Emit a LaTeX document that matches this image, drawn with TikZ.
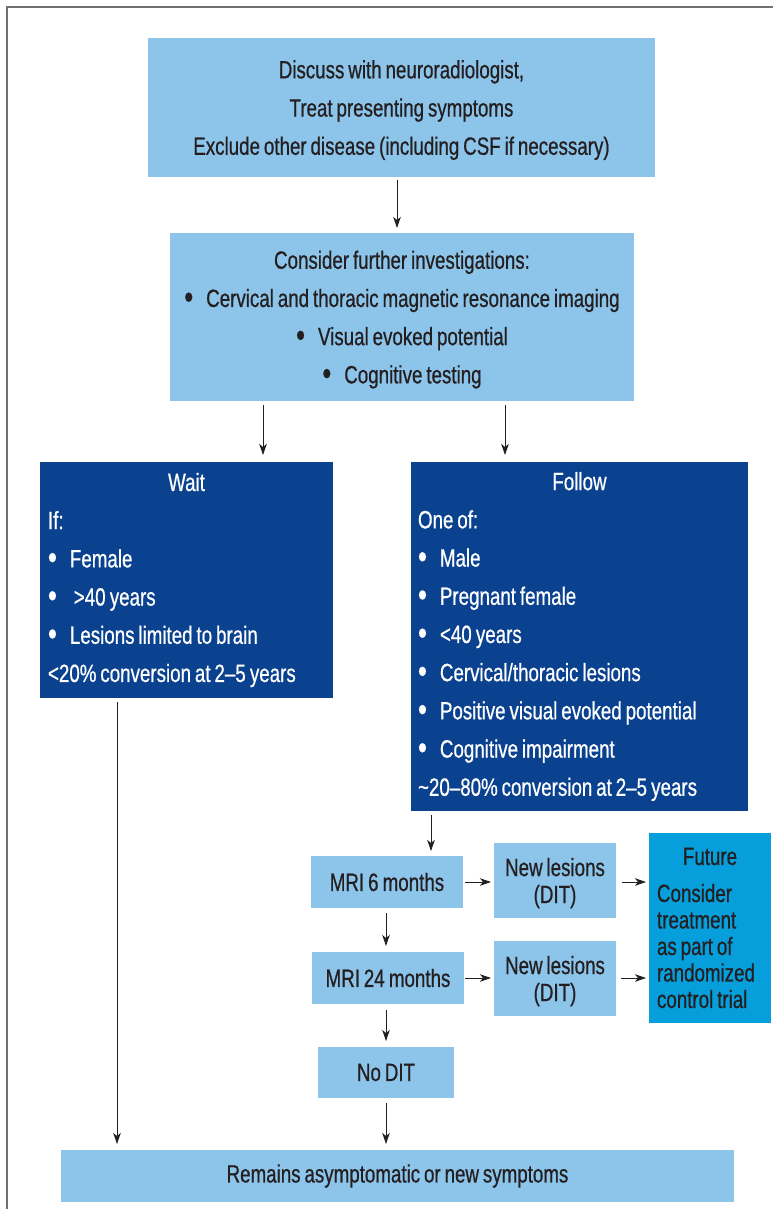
\documentclass[tikz,border=0pt]{standalone}
\usepackage{fontspec}
\setmainfont{Liberation Sans}[FakeStretch=0.75, FakeBold=0.6, WordSpace=0.75]
\usetikzlibrary{arrows.meta}
\definecolor{lightbox}{HTML}{8DC4EA}
\definecolor{darkbox}{HTML}{0B4290}
\definecolor{futurebox}{HTML}{069EDB}
\definecolor{txt}{HTML}{231F20}
\definecolor{framecol}{HTML}{707070}
\newcommand{\bul}{\raisebox{-1.5pt}{\fontsize{34}{0}\selectfont\textbullet}\hspace{13pt}}
\newcommand{\ctitle}[1]{\hbox to \hsize{\hss #1\hss}}
\begin{document}
\begin{tikzpicture}[x=1pt,y=-1pt,
  box/.style={rectangle, inner sep=0pt, outer sep=0pt, draw=none},
  lbox/.style={box, fill=lightbox, text=txt, align=center, font=\fontsize{25}{38.2}\selectfont},
  dbox/.style={box, fill=darkbox, text=white, align=flush left, font=\fontsize{25}{38.2}\selectfont},
  fbox/.style={box, fill=futurebox, text=txt, align=flush left, font=\fontsize{25}{26.5}\selectfont},
  arr/.style={draw=txt, line width=0.9pt, -{Stealth[length=11pt,width=7.5pt,inset=3pt]}}]
\useasboundingbox (0,0) rectangle (773,1209);
\draw[framecol, line width=1.3pt] (773,7) -- (7,7) -- (7,1209);

\node[lbox, minimum width=507pt, minimum height=139pt, text depth=-5pt] (b1) at (401.5,107.5)
  {Discuss with neuroradiologist,\\Treat presenting symptoms\\Exclude other disease (including CSF if necessary)};
\node[lbox, minimum width=464pt, minimum height=168pt, text depth=-5pt] (b2) at (402,317)
  {Consider further investigations:\\\bul Cervical and thoracic magnetic resonance imaging\\\bul Visual evoked potential\\\bul Cognitive testing};
\node[dbox, minimum height=236pt, text width=277pt, inner xsep=8pt] (wait) at (186.5,580)
  {\ctitle{Wait}\\If:\\\bul Female\\\bul\ {>}40\,years\\\bul Lesions limited to brain\\{<}20\% conversion at 2--5\,years};
\node[dbox, minimum height=349pt, text width=323pt, inner xsep=7pt] (follow) at (579.5,636.5)
  {\ctitle{Follow}\\One of:\\\bul Male\\\bul Pregnant female\\\bul {<}40\,years\\\bul Cervical/thoracic lesions\\\bul Positive visual evoked potential\\\bul Cognitive impairment\\\textasciitilde 20--80\% conversion at 2--5\,years};
\node[lbox, minimum width=152pt, minimum height=52pt] (m6) at (387,882) {MRI 6\,months};
\node[lbox, minimum width=122pt, minimum height=75pt, font=\fontsize{25}{27}\selectfont, text depth=-5pt] (n1) at (555,880.5) {New lesions\\(DIT)};
\node[fbox, minimum height=190pt, text width=106pt, inner xsep=8pt] (fut) at (710,928)
  {\ctitle{Future}\\[10.5pt]Consider\\treatment\\as part of\\randomized\\control trial};
\node[lbox, minimum width=152pt, minimum height=52pt] (m24) at (388,978) {MRI 24\,months};
\node[lbox, minimum width=122pt, minimum height=75pt, font=\fontsize{25}{27}\selectfont, text depth=-5pt] (n2) at (555,978.5) {New lesions\\(DIT)};
\node[lbox, minimum width=136pt, minimum height=51pt] (nodit) at (386,1072.5) {No DIT};
\node[lbox, minimum width=673pt, minimum height=52pt] (bot) at (397.5,1176) {Remains asymptomatic or new symptoms};

\coordinate (c397) at (397,0);
\coordinate (c263) at (263,0);
\coordinate (c505) at (505,0);
\coordinate (c117) at (117,0);
\coordinate (c431) at (431,0);
\coordinate (c386) at (386,0);

\draw[arr, shorten <=3pt, shorten >=5pt] (b1.south -| c397) -- (b2.north -| c397);
\draw[arr, shorten <=4pt, shorten >=7pt] (b2.south -| c263) -- (wait.north -| c263);
\draw[arr, shorten <=4pt, shorten >=7pt] (b2.south -| c505) -- (follow.north -| c505);
\draw[arr, shorten <=4pt, shorten >=6pt] (wait.south -| c117) -- (bot.north -| c117);
\draw[arr, shorten <=4pt, shorten >=5pt] (follow.south -| c431) -- (m6.north -| c431);
\draw[arr, shorten <=2pt, shorten >=3pt] (m6.east) -- (m6.east -| n1.west);
\draw[arr, shorten <=6pt, shorten >=3pt] (n1.east |- m6.east) -- (m6.east -| fut.west);
\draw[arr, shorten <=5pt, shorten >=6pt] (m6.south -| c386) -- (m24.north -| c386);
\draw[arr, shorten <=1pt, shorten >=3pt] (m24.east) -- (m24.east -| n2.west);
\draw[arr, shorten <=5pt, shorten >=3pt] (n2.east |- m24.east) -- (m24.east -| fut.west);
\draw[arr, shorten <=6pt, shorten >=6pt] (m24.south -| c386) -- (nodit.north -| c386);
\draw[arr, shorten <=5pt, shorten >=6pt] (nodit.south -| c386) -- (bot.north -| c386);
\end{tikzpicture}
\end{document}
